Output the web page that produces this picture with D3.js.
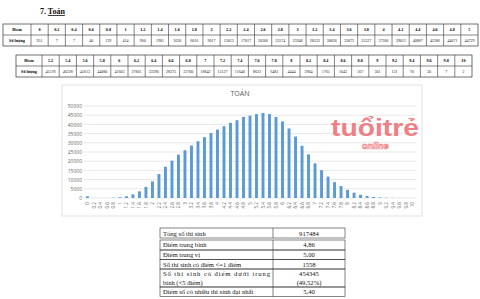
<!DOCTYPE html>
<html>
<head>
<meta charset="utf-8">
<script src="https://cdn.jsdelivr.net/npm/d3@7"></script>
<style>
  body { margin: 0; background: #fff; }
  svg { display: block; }
</style>
</head>
<body>
<div id="vis"></div>
<script>
var scores1 = ["0","0.2","0.4","0.6","0.8","1","1.2","1.4","1.6","1.8","2","2.2","2.4","2.6","2.8","3","3.2","3.4","3.6","3.8","4","4.2","4.4","4.6","4.8","5"];
var counts1 = [951,7,7,40,139,414,960,1981,3620,6016,9017,13013,17017,20306,23574,25948,28533,30836,33073,35327,37206,39012,40887,42286,44071,44729];
var scores2 = ["5.2","5.4","5.6","5.8","6","6.2","6.4","6.6","6.8","7","7.2","7.4","7.6","7.8","8","8.2","8.4","8.6","8.8","9","9.2","9.4","9.6","9.8","10"];
var counts2 = [45578,46228,45613,44080,41603,37801,33390,28375,23700,18842,15127,11640,8622,6483,4444,2904,1765,1043,567,301,131,70,30,7,2];
var yTicks = [0,5000,10000,15000,20000,25000,30000,35000,40000,45000,50000];

var summaryTotal = ["Tổng số thí sinh", "917484"];
var summaryRows = [
  ["Điểm trung bình", "4,86"],
  ["Điểm trung vị", "5,00"],
  ["Số thí sinh có điểm <=1 điểm", "1558"],
  ["Số thí sinh có điểm dưới trung|bình (<5 điểm)", "454345|(49,52%)"],
  ["Điểm số có nhiều thí sinh đạt nhất", "5,40"]
];

var width = 480, height = 299;
var serif = "'Liberation Serif', 'DejaVu Serif', serif";
var sans = "'Open Sans', 'Liberation Sans', sans-serif";

var svg = d3.select("#vis").append("svg")
  .attr("width", width)
  .attr("height", height);

// heading
var head = svg.append("text")
  .attr("x", 40).attr("y", 14)
  .attr("font-family", serif).attr("font-size", 8).attr("font-weight", "bold")
  .attr("fill", "#111");
head.append("tspan").text("7.  ");
head.append("tspan").attr("text-decoration", "underline").text("Toán");

// score tables
function drawScoreTable(x0, x1, y0, y1, labelW, scores, counts) {
  var g = svg.append("g");
  var cols = d3.scaleBand().domain(d3.range(scores.length)).range([x0 + labelW, x1]);
  var rowMid = (y0 + y1) / 2;

  g.append("rect").attr("x", x0).attr("y", y0)
    .attr("width", x1 - x0).attr("height", y1 - y0)
    .attr("fill", "none").attr("stroke", "#333").attr("stroke-width", 0.7);
  g.append("line").attr("x1", x0).attr("x2", x1).attr("y1", rowMid).attr("y2", rowMid)
    .attr("stroke", "#333").attr("stroke-width", 0.6);
  g.selectAll(".vline").data(d3.range(scores.length)).join("line")
    .attr("x1", function(i) { return cols(i); }).attr("x2", function(i) { return cols(i); })
    .attr("y1", y0).attr("y2", y1)
    .attr("stroke", "#333").attr("stroke-width", 0.6);

  g.append("text").attr("x", x0 + labelW / 2).attr("y", (y0 + rowMid) / 2 + 1.5)
    .attr("text-anchor", "middle").attr("font-family", serif).attr("font-size", 4.2)
    .attr("font-weight", "bold").text("Điểm");
  g.append("text").attr("x", x0 + labelW / 2).attr("y", (rowMid + y1) / 2 + 1.5)
    .attr("text-anchor", "middle").attr("font-family", serif).attr("font-size", 4.2)
    .attr("font-weight", "bold").text("Số lượng");

  g.selectAll(".sc").data(scores).join("text")
    .attr("x", function(d, i) { return cols(i) + cols.bandwidth() / 2; })
    .attr("y", (y0 + rowMid) / 2 + 1.5)
    .attr("text-anchor", "middle").attr("font-family", serif).attr("font-size", 4.2)
    .attr("font-weight", "bold").text(function(d) { return d; });
  g.selectAll(".ct").data(counts).join("text")
    .attr("x", function(d, i) { return cols(i) + cols.bandwidth() / 2; })
    .attr("y", (rowMid + y1) / 2 + 1.5)
    .attr("text-anchor", "middle").attr("font-family", serif).attr("font-size", 4)
    .attr("fill", "#222").text(function(d) { return d; });
}

drawScoreTable(3, 478, 24, 46, 28, scores1, counts1);
drawScoreTable(16, 472, 55, 77, 26, scores2, counts2);

// chart
var scores = scores1.concat(scores2);
var counts = counts1.concat(counts2);

var box = {x: 62, y: 85, w: 360, h: 131};
svg.append("rect").attr("x", box.x).attr("y", box.y)
  .attr("width", box.w).attr("height", box.h)
  .attr("fill", "#fff").attr("stroke", "#d9d9d9").attr("stroke-width", 0.8);

var x = d3.scaleBand().domain(scores).range([84, 416]).paddingInner(0.55).paddingOuter(0.3);
var y = d3.scaleLinear().domain([0, 50000]).range([198, 106]);

var chart = svg.append("g");

chart.selectAll(".grid").data(yTicks).join("line")
  .attr("x1", 84).attr("x2", 416)
  .attr("y1", function(d) { return y(d); }).attr("y2", function(d) { return y(d); })
  .attr("stroke", "#d9d9d9").attr("stroke-width", 0.6);

var yAxis = chart.append("g").attr("transform", "translate(82,0)")
  .call(d3.axisLeft(y).tickValues(yTicks).tickSize(0).tickPadding(0).tickFormat(d3.format("d")));
yAxis.select(".domain").remove();
yAxis.selectAll("text").attr("font-family", sans).attr("font-size", 5).attr("fill", "#666");

chart.selectAll(".bar").data(counts).join("rect")
  .attr("x", function(d, i) { return x(scores[i]); })
  .attr("y", function(d) { return y(d); })
  .attr("width", x.bandwidth())
  .attr("height", function(d) { return 198 - y(d); })
  .attr("fill", "#5b9bd5");

var xAxis = chart.append("g").attr("transform", "translate(0,199)")
  .call(d3.axisBottom(x).tickSize(0).tickPadding(0));
xAxis.select(".domain").remove();
xAxis.selectAll("text")
  .attr("font-family", sans).attr("font-size", 4.6).attr("fill", "#666")
  .attr("transform", "rotate(-90)")
  .attr("text-anchor", "end")
  .attr("dx", "-1.5").attr("dy", "0.35em")
  .attr("y", 0).attr("x", -1.5);

chart.append("text").attr("x", 240).attr("y", 96)
  .attr("text-anchor", "middle").attr("font-family", sans).attr("font-size", 7)
  .attr("fill", "#595959").text("TOÁN");

// watermark (logo words kept apart so they don't collide)
var wm = svg.append("g").attr("opacity", 0.85);
wm.append("text").attr("x", 331).attr("y", 136)
  .attr("font-family", "'Liberation Sans', sans-serif").attr("font-size", 23).attr("font-weight", "bold")
  .attr("textLength", 88).attr("lengthAdjust", "spacingAndGlyphs")
  .attr("fill", "#ee6b70").text("tuổitrẻ");
wm.append("text").attr("x", 362).attr("y", 149)
  .attr("font-family", "'Liberation Sans', sans-serif").attr("font-size", 9).attr("font-style", "italic")
  .attr("font-weight", "bold")
  .attr("fill", "#fff").attr("stroke", "#ee6b70").attr("stroke-width", 0.7)
  .text("online");

// summary table
var tg = svg.append("g").attr("font-family", serif).attr("font-size", 6.6).attr("fill", "#111");
var tx0 = 160, tx1 = 345, tmid = 273;

tg.append("rect").attr("x", tx0).attr("y", 228).attr("width", tx1 - tx0).attr("height", 10)
  .attr("fill", "none").attr("stroke", "#333").attr("stroke-width", 0.6);
tg.append("line").attr("x1", tmid).attr("x2", tmid).attr("y1", 228).attr("y2", 238)
  .attr("stroke", "#333").attr("stroke-width", 0.6);
tg.append("text").attr("x", tx0 + 3).attr("y", 235.5).text(summaryTotal[0]);
tg.append("text").attr("x", (tmid + tx1) / 2).attr("y", 235.5).attr("text-anchor", "middle").text(summaryTotal[1]);

var rowH = [10, 9.5, 9.5, 18, 9.5];
var ry = 240;
tg.append("line").attr("x1", tmid).attr("x2", tmid).attr("y1", 240).attr("y2", 240 + d3.sum(rowH))
  .attr("stroke", "#333").attr("stroke-width", 0.6);
summaryRows.forEach(function(r, i) {
  var h = rowH[i];
  tg.append("rect").attr("x", tx0).attr("y", ry).attr("width", tx1 - tx0).attr("height", h)
    .attr("fill", "none").attr("stroke", "#333").attr("stroke-width", 0.6);
  var left = r[0].split("|"), right = r[1].split("|");
  left.forEach(function(t, j) {
    var el = tg.append("text").attr("x", tx0 + 3).attr("y", ry + 7.2 + j * 8.5).text(t);
    if (left.length > 1 && j === 0) el.attr("textLength", tmid - tx0 - 6).attr("lengthAdjust", "spacing");
  });
  right.forEach(function(t, j) {
    tg.append("text").attr("x", (tmid + tx1) / 2).attr("y", ry + 7.2 + j * 8.5)
      .attr("text-anchor", "middle").text(t);
  });
  ry += h;
});
</script>
</body>
</html>
